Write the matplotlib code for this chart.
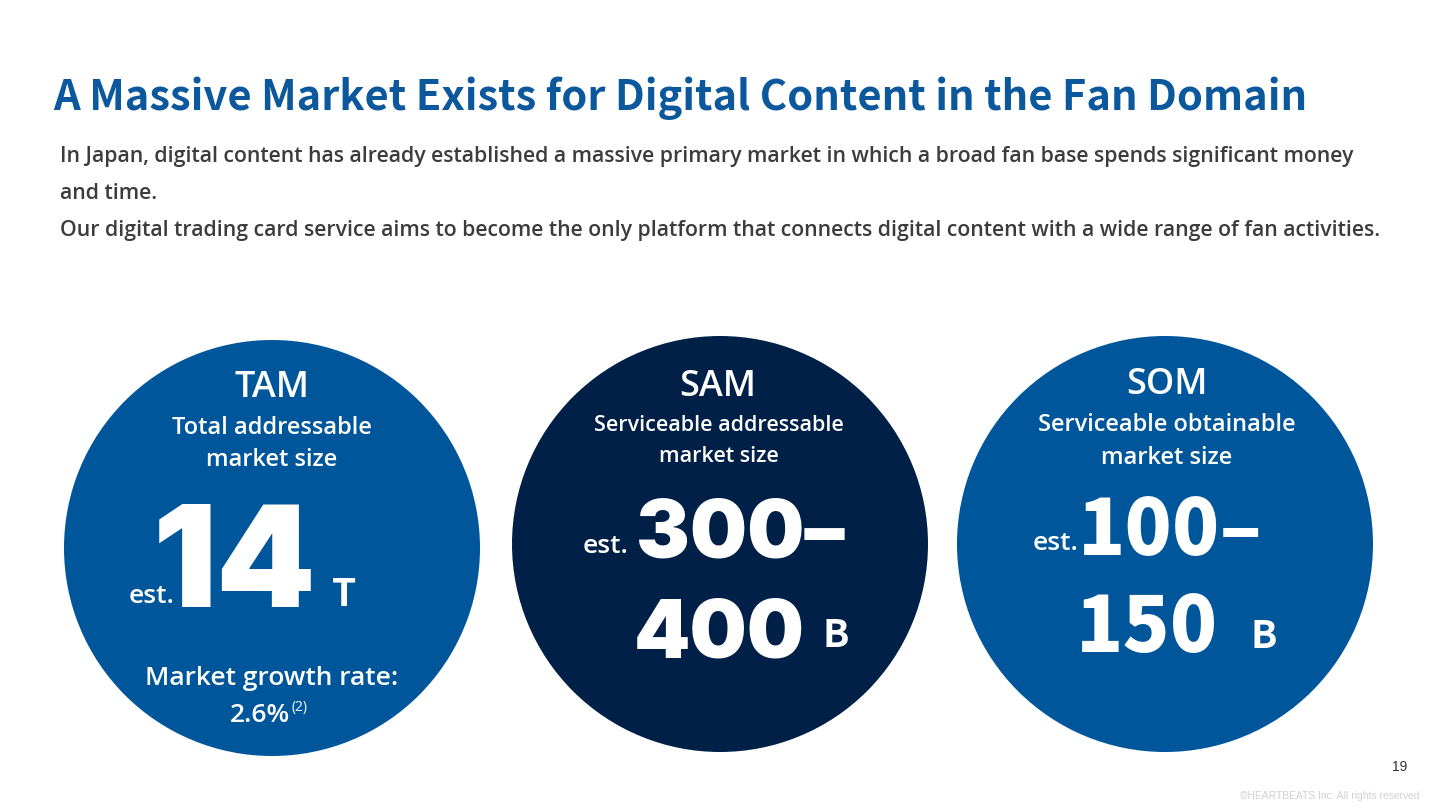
import matplotlib
matplotlib.use("Agg")
import matplotlib.pyplot as plt
from matplotlib.patches import Circle
from matplotlib import font_manager

# slide text
title = "A Massive Market Exists for Digital Content in the Fan Domain"
intro_lines = [
    "In Japan, digital content has already established a massive primary market in which a broad fan base spends significant money",
    "and time.",
    "Our digital trading card service aims to become the only platform that connects digital content with a wide range of fan activities.",
]

# the three market circles
segments = ["TAM", "SAM", "SOM"]
descriptions = [
    ["Total addressable", "market size"],
    ["Serviceable addressable", "market size"],
    ["Serviceable obtainable", "market size"],
]
values_top = ["14", "300–", "100–"]
values_bottom = ["", "400", "150"]
units = ["T", "B", "B"]
growth_label = "Market growth rate:"
growth_rate = "2.6%"
growth_note = "(2)"
page_number = "19"
copyright_text = "©HEARTBEATS Inc. All rights reserved"

BLUE = "#00569b"
NAVY = "#002047"
circle_colors = [BLUE, NAVY, BLUE]

names = {f.name for f in font_manager.fontManager.ttflist}


def pick(*fams):
    for f in fams:
        if f in names:
            return f
    return "DejaVu Sans"


TITLE_FONT = pick("Noto Sans CJK JP")
BODY_FONT = pick("Open Sans", "Noto Sans")
LABEL_FONT = pick("Open Sans", "Noto Sans")
NUM_FONT = pick("Noto Sans CJK JP", "Roboto")
WIDE_NUM_FONT = pick("Inter", "DejaVu Sans")

fig = plt.figure(figsize=(14.4, 8.1), dpi=100)
ax = fig.add_axes([0, 0, 1, 1])
ax.set_xlim(0, 1440)
ax.set_ylim(810, 0)
ax.axis("off")

# header
ax.text(53, 110, title, fontsize=30, color="#0b589c", fontweight="bold",
        family=TITLE_FONT, ha="left", va="baseline")
for i, line in enumerate(intro_lines):
    ax.text(60, 162 + i * 37, line, fontsize=15.3, color="#3c3c3c", fontweight="semibold",
            family=BODY_FONT, ha="left", va="baseline")

# circles
centers = [(272, 548), (720, 544), (1165, 544)]
radius = 208
for (cx, cy), col in zip(centers, circle_colors):
    ax.add_patch(Circle((cx, cy), radius, color=col, ec="none"))

white = "white"

# TAM
cx, cy = centers[0]
ax.text(cx, 397, segments[0], fontsize=26, color=white, fontweight="semibold",
        family=LABEL_FONT, ha="center", va="baseline")
ax.text(cx, 434, descriptions[0][0], fontsize=17, color=white, fontweight="semibold",
        family=LABEL_FONT, ha="center", va="baseline")
ax.text(cx, 466, descriptions[0][1], fontsize=17, color=white, fontweight="semibold",
        family=LABEL_FONT, ha="center", va="baseline")
ax.text(174, 603, "est.", fontsize=19, color=white, fontweight="semibold",
        family=LABEL_FONT, ha="right", va="baseline")
ax.text(153, 607, values_top[0], fontsize=102, color=white, fontweight="black",
        family=WIDE_NUM_FONT, ha="left", va="baseline")
ax.text(332, 606, units[0], fontsize=28, color=white, fontweight="bold",
        family=NUM_FONT, ha="left", va="baseline")
ax.text(cx, 685, growth_label, fontsize=19, color=white, fontweight="semibold",
        family=LABEL_FONT, ha="center", va="baseline")
ax.text(290, 722, growth_rate, fontsize=19, color=white, fontweight="semibold",
        family=LABEL_FONT, ha="right", va="baseline")
ax.text(292, 711, growth_note, fontsize=10, color=white,
        family=LABEL_FONT, ha="left", va="baseline")

# SAM
cx, cy = centers[1]
ax.text(cx - 2, 396, segments[1], fontsize=26, color=white, fontweight="semibold",
        family=LABEL_FONT, ha="center", va="baseline")
ax.text(cx - 1, 431, descriptions[1][0], fontsize=15.5, color=white, fontweight="semibold",
        family=LABEL_FONT, ha="center", va="baseline")
ax.text(cx - 1, 462, descriptions[1][1], fontsize=15.5, color=white, fontweight="semibold",
        family=LABEL_FONT, ha="center", va="baseline")
ax.text(628, 553, "est.", fontsize=19, color=white, fontweight="semibold",
        family=LABEL_FONT, ha="right", va="baseline")
ax.text(636, 557, values_top[1], fontsize=58, color=white, fontweight="black",
        family=WIDE_NUM_FONT, ha="left", va="baseline")
ax.text(634, 658, values_bottom[1], fontsize=58, color=white, fontweight="black",
        family=WIDE_NUM_FONT, ha="left", va="baseline")
ax.text(823, 647, units[1], fontsize=28, color=white, fontweight="bold",
        family=NUM_FONT, ha="left", va="baseline")

# SOM
cx, cy = centers[2]
ax.text(cx + 2, 394, segments[2], fontsize=26, color=white, fontweight="semibold",
        family=LABEL_FONT, ha="center", va="baseline")
ax.text(cx + 2, 431, descriptions[2][0], fontsize=17, color=white, fontweight="semibold",
        family=LABEL_FONT, ha="center", va="baseline")
ax.text(cx + 2, 464, descriptions[2][1], fontsize=17, color=white, fontweight="semibold",
        family=LABEL_FONT, ha="center", va="baseline")
ax.text(1079, 550, "est.", fontsize=19, color=white, fontweight="semibold",
        family=LABEL_FONT, ha="right", va="baseline")
ax.text(1078, 555, values_top[2], fontsize=56, color=white, fontweight="black",
        family=NUM_FONT, ha="left", va="baseline")
ax.text(1076, 652, values_bottom[2], fontsize=56, color=white, fontweight="black",
        family=NUM_FONT, ha="left", va="baseline")
ax.text(1251, 648, units[2], fontsize=28, color=white, fontweight="bold",
        family=NUM_FONT, ha="left", va="baseline")

# footer
ax.text(1407, 771, page_number, fontsize=10, color="#333333",
        family="Liberation Sans", ha="right", va="baseline")
ax.text(1420, 799, copyright_text, fontsize=7.4, color="#d0d0d0",
        family="Liberation Sans", ha="right", va="baseline")

fig.savefig("out.png", dpi=100, facecolor="white")
